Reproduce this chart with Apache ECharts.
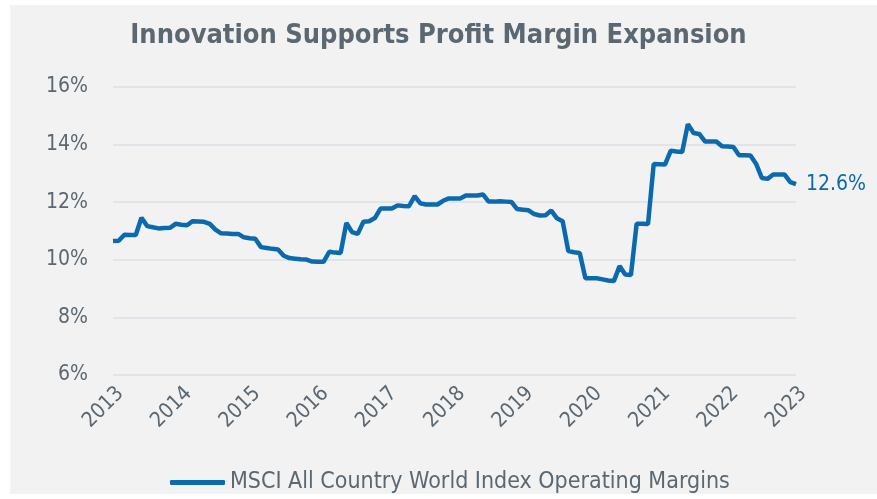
<!DOCTYPE html>
<html>
<head>
    <meta charset="UTF-8">
    <title>Innovation Supports Profit Margin Expansion</title>
    <script src="https://cdn.jsdelivr.net/npm/echarts@6/dist/echarts.min.js"></script>
</head>
<style>
    html, body {
        margin: 0;
        padding: 0;
        background: #ffffff;
    }
    #chart {
        width: 877px;
        height: 499px;
    }
</style>
<body>
<div id="chart"></div>
<script>
// months since Jan 2013, one value per month (operating margin, %)
const yearTicks = ['2013', '2014', '2015', '2016', '2017', '2018', '2019', '2020', '2021', '2022', '2023'];
const margins = [
    10.65, 10.66, 10.87, 10.86, 10.86, 11.46, 11.17, 11.13, 11.09, 11.10, 11.11, 11.25,
    11.22, 11.20, 11.34, 11.33, 11.32, 11.25, 11.05, 10.92, 10.91, 10.90, 10.90, 10.78,
    10.75, 10.73, 10.44, 10.41, 10.38, 10.36, 10.14, 10.06, 10.04, 10.02, 10.01, 9.94,
    9.93, 9.93, 10.28, 10.25, 10.24, 11.28, 10.96, 10.90, 11.32, 11.34, 11.45, 11.78,
    11.78, 11.78, 11.89, 11.87, 11.86, 12.21, 11.96, 11.92, 11.92, 11.92, 12.05, 12.13,
    12.13, 12.13, 12.23, 12.23, 12.23, 12.27, 12.02, 12.02, 12.03, 12.02, 12.01, 11.76,
    11.74, 11.72, 11.59, 11.54, 11.55, 11.71, 11.44, 11.34, 10.30, 10.26, 10.24, 9.36,
    9.36, 9.36, 9.32, 9.28, 9.26, 9.78, 9.49, 9.47, 11.25, 11.25, 11.24, 13.33,
    13.32, 13.31, 13.79, 13.76, 13.74, 14.71, 14.40, 14.37, 14.11, 14.11, 14.11, 13.94,
    13.93, 13.92, 13.63, 13.63, 13.62, 13.33, 12.84, 12.81, 12.96, 12.96, 12.96, 12.70,
    12.63
];
const seriesName = 'MSCI All Country World Index Operating Margins';

const textColor = '#5b6771';
const lineColor = '#0b6aad';
const fontFam = '"DejaVu Sans Condensed", "Roboto", sans-serif';

const chart = echarts.init(document.getElementById('chart'), null, { renderer: 'canvas' });
const option = {
    backgroundColor: '#ffffff',
    animation: false,
    graphic: [{
        type: 'rect',
        z: -10,
        silent: true,
        shape: { x: 10, y: 5, width: 867, height: 489 },
        style: { fill: '#f2f2f2' }
    }],
    title: {
        text: 'Innovation Supports Profit Margin Expansion',
        left: 'center',
        top: 17,
        textStyle: {
            fontFamily: fontFam,
            fontWeight: 'bold',
            fontSize: 27,
            color: textColor
        }
    },
    legend: {
        top: 466,
        left: 165,
        itemWidth: 55,
        itemHeight: 5,
        itemGap: 5,
        icon: 'roundRect',
        textStyle: {
            fontFamily: fontFam,
            fontSize: 23,
            color: textColor
        },
        data: [seriesName]
    },
    grid: {
        left: 113,
        right: 81,
        top: 87,
        bottom: 124
    },
    xAxis: {
        type: 'value',
        min: 0,
        max: (yearTicks.length - 1) * 12,
        interval: 12,
        axisLine: { show: false },
        axisTick: { show: false },
        splitLine: { show: false },
        axisLabel: {
            rotate: 45,
            margin: 8,
            verticalAlign: 'top',
            fontFamily: fontFam,
            fontSize: 21,
            color: textColor,
            formatter: v => yearTicks[v / 12]
        }
    },
    yAxis: {
        type: 'value',
        min: 6,
        max: 16,
        interval: 2,
        axisLine: { show: false },
        axisTick: { show: false },
        splitLine: { lineStyle: { color: '#e3e3ea', width: 2 } },
        axisLabel: {
            margin: 25,
            fontFamily: fontFam,
            fontSize: 21,
            color: textColor,
            formatter: '{value}%'
        }
    },
    series: [{
        name: seriesName,
        type: 'line',
        data: margins.map((v, i) => [i, v]),
        showSymbol: false,
        symbol: 'none',
        lineStyle: { color: lineColor, width: 4.5 },
        itemStyle: { color: lineColor },
        endLabel: {
            show: true,
            distance: 10,
            fontFamily: fontFam,
            fontSize: 21,
            color: lineColor,
            formatter: p => p.value[1].toFixed(1) + '%'
        }
    }]
};
chart.setOption(option);
</script>
</body>
</html>
